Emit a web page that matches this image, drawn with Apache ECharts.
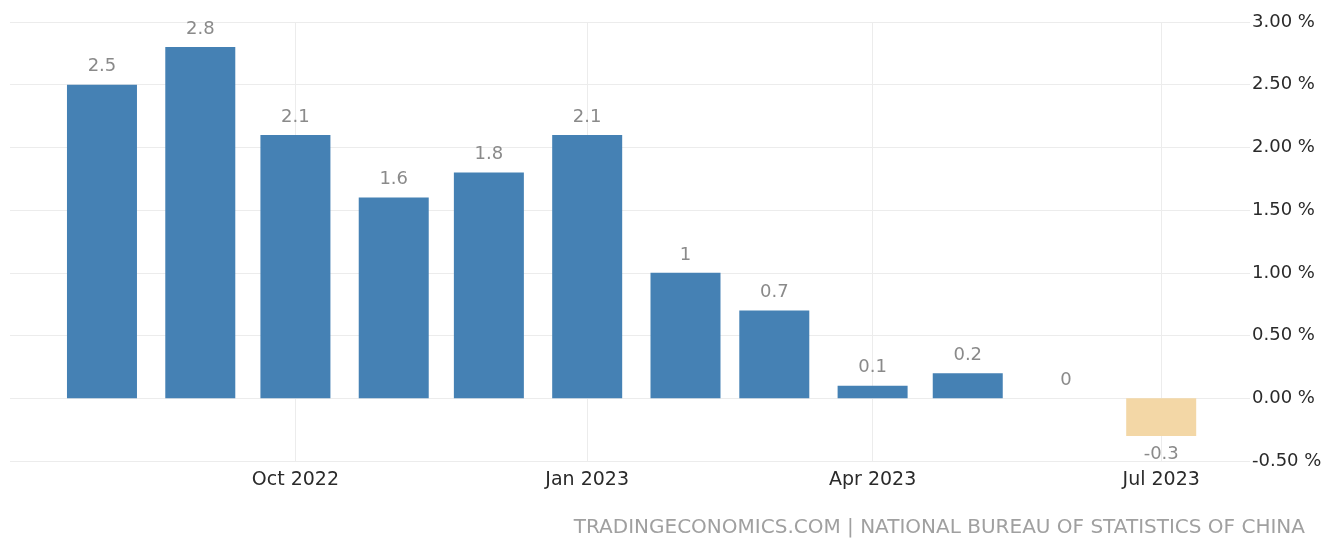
<!DOCTYPE html>
<html>
<head>
<meta charset="utf-8">
<script src="https://cdn.jsdelivr.net/npm/echarts@6/dist/echarts.min.js"></script>
<style>html,body{margin:0;padding:0;background:#fff;}#c{width:1329px;height:539px;}</style>
</head>
<body>
<div id="c"></div>
<script>
// Data (China inflation rate YoY, %)
const months = ['2022-08','2022-09','2022-10','2022-11','2022-12','2023-01','2023-02','2023-03','2023-04','2023-05','2023-06','2023-07'];
const values = [2.5, 2.8, 2.1, 1.6, 1.8, 2.1, 1.0, 0.7, 0.1, 0.2, 0.0, -0.3];
const tickMonths = ['2022-10','2023-01','2023-04','2023-07'];
const monthNames = ['Jan','Feb','Mar','Apr','May','Jun','Jul','Aug','Sep','Oct','Nov','Dec'];
const sourceText = 'TRADINGECONOMICS.COM | NATIONAL BUREAU OF STATISTICS OF CHINA';

function ts(ym, d) {
  const [y, m] = ym.split('-').map(Number);
  return Date.UTC(y, m - 1, d || 1);
}

const FONT = 'DejaVu Sans';
const chart = echarts.init(document.getElementById('c'));
chart.setOption({
  animation: false,
  backgroundColor: '#fff',
  textStyle: { fontFamily: FONT },
  title: {
    text: sourceText,
    right: 24, bottom: 1, padding: 0,
    textStyle: { color: '#a0a0a0', fontSize: 20, fontWeight: 'normal', fontFamily: FONT }
  },
  grid: { left: 10, right: 79, top: 22, bottom: 78 },
  xAxis: {
    type: 'value',
    min: ts('2022-07', 3),
    max: ts('2023-07', 29),
    axisLine: { show: false },
    axisTick: { show: false, customValues: tickMonths.map(m => ts(m)) },
    axisLabel: {
      customValues: tickMonths.map(m => ts(m)),
      color: '#2a2a2a', fontSize: 19, margin: 10, fontFamily: FONT,
      formatter: v => { const d = new Date(v); return monthNames[d.getUTCMonth()] + ' ' + d.getUTCFullYear(); }
    },
    splitLine: { show: true, lineStyle: { color: '#ececec', width: 1 } }
  },
  yAxis: {
    type: 'value',
    position: 'right',
    min: -0.5, max: 3, interval: 0.5,
    axisLine: { show: false },
    axisTick: { show: false },
    axisLabel: {
      color: '#2a2a2a', fontSize: 18, margin: 2, fontFamily: FONT,
      formatter: v => v.toFixed(2) + ' %'
    },
    splitLine: { lineStyle: { color: '#ececec', width: 1 } }
  },
  series: [{
    type: 'bar',
    barWidth: 70,
    data: months.map((m, i) => ({
      value: [ts(m), values[i]],
      itemStyle: { color: values[i] < 0 ? '#f3d7a6' : '#4581b4' },
      label: { position: values[i] < 0 ? 'bottom' : 'top' }
    })),
    label: {
      show: true, distance: 9, color: '#8a8a8a', fontSize: 18, fontFamily: FONT,
      formatter: p => String(p.value[1])
    }
  }]
});
</script>
</body>
</html>
